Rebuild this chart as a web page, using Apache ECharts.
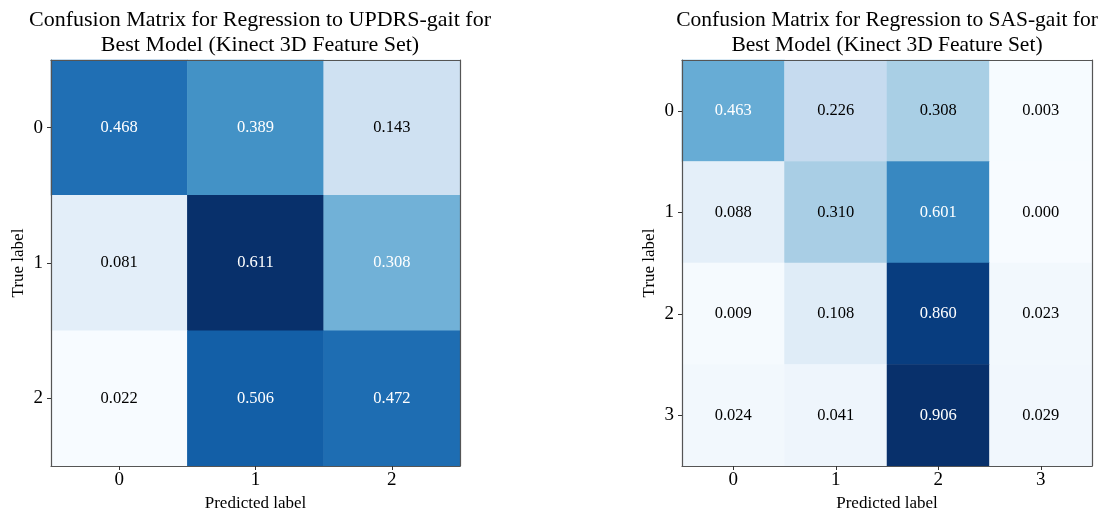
<!DOCTYPE html>
<html>
<head>
<meta charset="utf-8">
<script src="https://cdn.jsdelivr.net/npm/echarts@6/dist/echarts.min.js"></script>
<style>
  html, body { margin: 0; padding: 0; background: #fff; }
  #chart { width: 1103px; height: 510px; }
</style>
</head>
<body>
<div id="chart"></div>
<script>
// labels
var updrsLabels = ['0', '1', '2'];
var sasLabels = ['0', '1', '2', '3'];

// confusion matrices, rows = true label, cols = predicted label
var updrsMatrix = [
  [0.468, 0.389, 0.143],
  [0.081, 0.611, 0.308],
  [0.022, 0.506, 0.472]
];
var sasMatrix = [
  [0.463, 0.226, 0.308, 0.003],
  [0.088, 0.310, 0.601, 0.000],
  [0.009, 0.108, 0.860, 0.023],
  [0.024, 0.041, 0.906, 0.029]
];

var blues = ['#f7fbff', '#deebf7', '#c6dbef', '#9ecae1', '#6baed6', '#4292c6', '#2171b5', '#08519c', '#08306b'];
var font = 'Liberation Serif, Times New Roman, serif';

function toCells(m) {
  var out = [];
  var max = 0, min = Infinity;
  m.forEach(function (row) { row.forEach(function (v) { max = Math.max(max, v); min = Math.min(min, v); }); });
  m.forEach(function (row, i) {
    row.forEach(function (v, j) {
      out.push({
        value: [j, i, v],
        label: { color: v > max / 2 ? '#ffffff' : '#000000' }
      });
    });
  });
  return { data: out, min: min, max: max };
}

var left = toCells(updrsMatrix);
var right = toCells(sasMatrix);

var chart = echarts.init(document.getElementById('chart'));

function axisPair(gridIndex, labels) {
  var line = { show: true, onZero: false, lineStyle: { color: '#555', width: 1.2 } };
  var tick = { show: true, alignWithLabel: true, length: 4, lineStyle: { color: '#333' } };
  return {
    x: [
      {
        type: 'category', gridIndex: gridIndex, data: labels, position: 'bottom', z: 5,
        axisLine: line, axisTick: tick,
        axisLabel: { fontFamily: font, fontSize: 19, color: '#000', margin: 5 },
        name: 'Predicted label', nameLocation: 'middle', nameGap: 28,
        nameTextStyle: { fontFamily: font, fontSize: 17, color: '#000' },
        splitArea: { show: false }
      },
      {
        type: 'category', gridIndex: gridIndex, data: labels, position: 'top', z: 5,
        axisLine: line, axisTick: { show: false }, axisLabel: { show: false }
      }
    ],
    y: [
      {
        type: 'category', gridIndex: gridIndex, data: labels, inverse: true, position: 'left', z: 5,
        axisLine: line, axisTick: tick,
        axisLabel: { fontFamily: font, fontSize: 19, color: '#000', margin: 8 },
        name: 'True label', nameLocation: 'middle', nameGap: 24, nameRotate: 90,
        nameTextStyle: { fontFamily: font, fontSize: 17, color: '#000' }
      },
      {
        type: 'category', gridIndex: gridIndex, data: labels, inverse: true, position: 'right', z: 5,
        axisLine: line, axisTick: { show: false }, axisLabel: { show: false }
      }
    ]
  };
}

var a0 = axisPair(0, updrsLabels);
var a1 = axisPair(1, sasLabels);

var option = {
  backgroundColor: '#fff',
  animation: false,
  title: [
    {
      text: 'Confusion Matrix for Regression to UPDRS-gait for\nBest Model (Kinect 3D Feature Set)',
      left: 255, top: 3, textAlign: 'center',
      textStyle: { fontFamily: font, fontSize: 22, fontWeight: 'normal', color: '#000', lineHeight: 25 }
    },
    {
      text: 'Confusion Matrix for Regression to SAS-gait for\nBest Model (Kinect 3D Feature Set)',
      left: 882, top: 3, textAlign: 'center',
      textStyle: { fontFamily: font, fontSize: 21.5, fontWeight: 'normal', color: '#000', lineHeight: 25 }
    }
  ],
  grid: [
    { left: 51, top: 60, width: 409, height: 406, outerBoundsMode: 'none', containLabel: false },
    { left: 682, top: 60, width: 410, height: 406, outerBoundsMode: 'none', containLabel: false }
  ],
  xAxis: a0.x.concat(a1.x.map(function (a) { return Object.assign({}, a, { gridIndex: 1 }); })),
  yAxis: a0.y.concat(a1.y.map(function (a) { return Object.assign({}, a, { gridIndex: 1 }); })),
  visualMap: [
    { show: false, seriesIndex: 0, min: left.min, max: left.max, inRange: { color: blues } },
    { show: false, seriesIndex: 1, min: right.min, max: right.max, inRange: { color: blues } }
  ],
  series: [
    {
      type: 'heatmap', xAxisIndex: 0, yAxisIndex: 0, data: left.data,
      label: {
        show: true, fontFamily: font, fontSize: 16.5,
        formatter: function (p) { return p.value[2].toFixed(3); }
      },
      emphasis: { disabled: true }
    },
    {
      type: 'heatmap', xAxisIndex: 2, yAxisIndex: 2, data: right.data,
      label: {
        show: true, fontFamily: font, fontSize: 16.5,
        formatter: function (p) { return p.value[2].toFixed(3); }
      },
      emphasis: { disabled: true }
    }
  ]
};

chart.setOption(option);
</script>
</body>
</html>
